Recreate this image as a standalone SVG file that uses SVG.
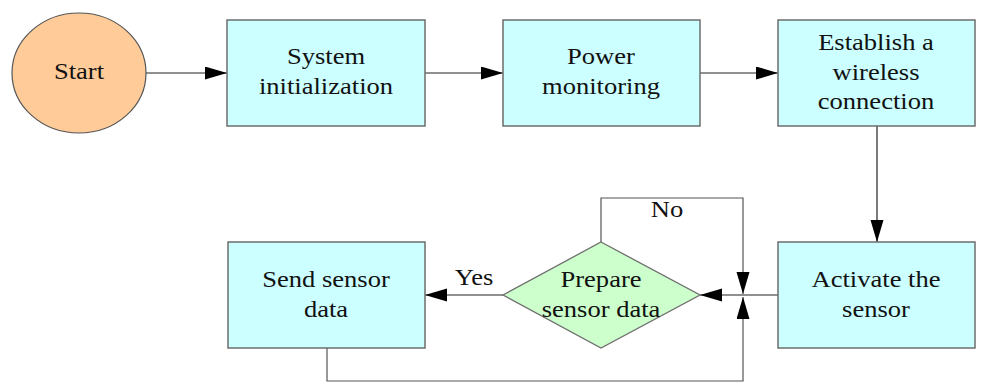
<svg xmlns="http://www.w3.org/2000/svg" width="981" height="383" viewBox="0 0 981 383">
  <style>
    .box { fill: #CCFFFF; stroke: #6e6e6e; stroke-width: 1.5; }
    .start { fill: #FFCC99; stroke: #555555; stroke-width: 1.2; }
    .dec { fill: #CCFFCC; stroke: #6e6e6e; stroke-width: 1.3; }
    .line { fill: none; stroke: #222222; stroke-width: 1.2; }
    .loop { fill: none; stroke: #555555; stroke-width: 1.2; }
    .lbl { font-size: 22.5px; fill: #111111; text-anchor: middle; }
  </style>
  <defs>
    <marker id="arrow" markerUnits="userSpaceOnUse" markerWidth="24" markerHeight="14" refX="22" refY="6.5" orient="auto">
      <path d="M0,0 L22,6.5 L0,13 Z" fill="#000000"/>
    </marker>
  </defs>

  <g font-family="Liberation Serif" font-size="22.5">
  <!-- connectors -->
  <g id="connectors">
    <line class="line" x1="146" y1="73" x2="227" y2="73" marker-end="url(#arrow)"/>
    <line class="line" x1="425" y1="73" x2="503" y2="73" marker-end="url(#arrow)"/>
    <line class="line" x1="700" y1="73" x2="778" y2="73" marker-end="url(#arrow)"/>
    <line class="line" x1="877" y1="126" x2="877" y2="242" marker-end="url(#arrow)"/>
    <line class="line" x1="778" y1="295" x2="700" y2="295" marker-end="url(#arrow)"/>
    <line class="line" x1="503" y1="295" x2="425" y2="295" marker-end="url(#arrow)"/>
    <!-- "No" loop back into the junction -->
    <polyline class="loop" points="601,242 601,198 743,198 743,294" marker-end="url(#arrow)"/>
    <!-- return loop from sending data -->
    <polyline class="loop" points="327,348 327,381 743,381 743,297" marker-end="url(#arrow)"/>
    <text class="lbl" transform="translate(474,285) scale(1.18,1)">Yes</text>
    <text class="lbl" transform="translate(667,217) scale(1.18,1)">No</text>
  </g>

  <g id="start">
    <ellipse class="start" cx="79" cy="73" rx="67" ry="60"/>
    <text class="lbl" transform="translate(79,79) scale(1.18,1)">Start</text>
  </g>

  <g id="system-init">
    <rect class="box" x="227" y="20" width="198" height="106"/>
    <text class="lbl" transform="translate(326,64) scale(1.18,1)">System</text>
    <text class="lbl" transform="translate(326,94) scale(1.18,1)">initialization</text>
  </g>

  <g id="power-monitoring">
    <rect class="box" x="503" y="20" width="197" height="106"/>
    <text class="lbl" transform="translate(601,64) scale(1.18,1)">Power</text>
    <text class="lbl" transform="translate(601,94) scale(1.18,1)">monitoring</text>
  </g>

  <g id="wireless">
    <rect class="box" x="778" y="20" width="197" height="106"/>
    <text class="lbl" transform="translate(876,50) scale(1.18,1)">Establish a</text>
    <text class="lbl" transform="translate(876,80) scale(1.18,1)">wireless</text>
    <text class="lbl" transform="translate(876,109) scale(1.18,1)">connection</text>
  </g>

  <g id="activate">
    <rect class="box" x="778" y="242" width="197" height="106"/>
    <text class="lbl" transform="translate(876,287) scale(1.18,1)">Activate the</text>
    <text class="lbl" transform="translate(876,317) scale(1.18,1)">sensor</text>
  </g>

  <g id="prepare">
    <polygon class="dec" points="601,242 700,295 601,348 503,295"/>
    <text class="lbl" transform="translate(601,287) scale(1.18,1)">Prepare</text>
    <text class="lbl" transform="translate(601,317) scale(1.18,1)">sensor data</text>
  </g>

  <g id="send">
    <rect class="box" x="228" y="242" width="197" height="106"/>
    <text class="lbl" transform="translate(326,287) scale(1.18,1)">Send sensor</text>
    <text class="lbl" transform="translate(326,317) scale(1.18,1)">data</text>
  </g>
  </g>
</svg>
